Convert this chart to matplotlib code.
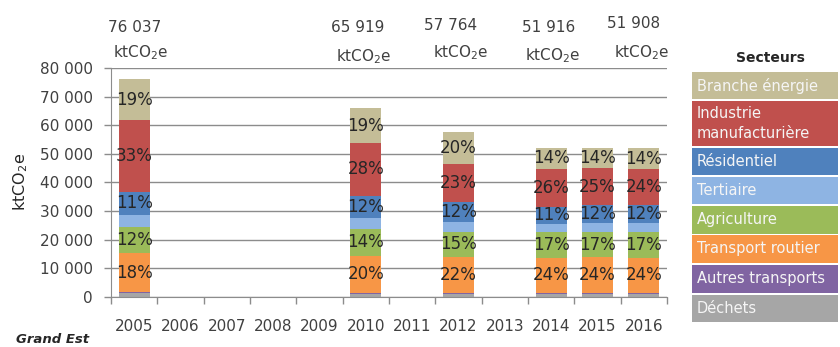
import matplotlib.pyplot as plt
import matplotlib.ticker as ticker
from matplotlib.patches import Rectangle

plt.rcParams['font.family'] = ['DejaVu Sans']
plt.rcParams['mathtext.fontset'] = 'custom'
plt.rcParams['mathtext.rm'] = 'DejaVu Sans'

# categories on the x axis and the years that have data
years = ['2005', '2006', '2007', '2008', '2009', '2010', '2011', '2012', '2013', '2014', '2015', '2016']
data_years = ['2005', '2010', '2012', '2014', '2015', '2016']
total_label_years = ['2005', '2010', '2012', '2014', '2016']

# emissions per sector, ktCO2e (stack order: bottom -> top)
dechets = [1300, 1000, 1100, 1000, 1000, 1000]
autres_transports = [300, 200, 200, 250, 250, 250]
transport_routier = [13700, 13200, 12700, 12450, 12500, 12450]
agriculture = [9100, 9200, 8700, 8800, 8850, 8800]
tertiaire = [4300, 3850, 3500, 3100, 3150, 3200]
residentiel = [8000, 7900, 6900, 5700, 6200, 6250]
industrie = [25000, 18300, 13300, 13500, 13000, 12600]
branche_energie = [14337, 12269, 11364, 7116, 7150, 7358]

sectors = ['Déchets', 'Autres transports', 'Transport routier', 'Agriculture',
           'Tertiaire', 'Résidentiel', 'Industrie manufacturière', 'Branche énergie']
series = [dechets, autres_transports, transport_routier, agriculture,
          tertiaire, residentiel, industrie, branche_energie]
colors = ['#A6A6A6', '#8064A2', '#F79646', '#9BBB59',
          '#8EB4E3', '#4F81BD', '#C0504D', '#C4BD97']
labelled = ['Transport routier', 'Agriculture', 'Résidentiel',
            'Industrie manufacturière', 'Branche énergie']

W, H = 840, 347


def fx(x):
    return x / W


def fy(y):
    return 1 - y / H


fig = plt.figure(figsize=(W / 100, H / 100), dpi=100)
ax = fig.add_axes([fx(111), fy(296.7), (667 - 111) / W, (296.7 - 68) / H])

pos = [years.index(y) for y in data_years]
totals = [sum(v) for v in zip(*series)]
bottom = [0] * len(data_years)
for name, vals, col in zip(sectors, series, colors):
    ax.bar(pos, vals, width=0.67, bottom=bottom, color=col, zorder=2, linewidth=0)
    if name in labelled:
        for p, b, v, t in zip(pos, bottom, vals, totals):
            pct = int(v / t * 100 + 0.5)
            ax.text(p, b + v / 2, f'{pct}%', ha='center', va='center',
                    fontsize=12, color='#262626', zorder=3)
    bottom = [b + v for b, v in zip(bottom, vals)]

# totals above the plot
num_dx = [0, -8, -8, -3, -10]
kt_dx = [7, -2, 2, 2, -2]
num_y = [27, 28, 25, 27, 23]
kt_y = [53, 57, 53, 56, 53]
for i, yr in enumerate(total_label_years):
    t = totals[data_years.index(yr)]
    xc = 111 + (years.index(yr) + 0.5) * (667 - 111) / len(years)
    fig.text(fx(xc + num_dx[i]), fy(num_y[i]), f'{t:,}'.replace(',', ' '),
             ha='center', va='center', fontsize=11, color='#404040')
    fig.text(fx(xc + kt_dx[i]), fy(kt_y[i]), r'ktCO$_\mathrm{2}$e',
             ha='center', va='center', fontsize=11, color='#404040')

ax.set_xlim(-0.5, len(years) - 0.5)
ax.set_ylim(0, 80000)
ax.set_xticks(range(len(years)))
ax.set_xticklabels(years)
ax.set_xticks([i - 0.5 for i in range(len(years) + 1)], minor=True)
ax.tick_params(axis='x', which='major', length=0, pad=16, labelsize=11, labelcolor='#404040')
ax.tick_params(axis='x', which='minor', length=5, width=1, color='#8C8C8C', direction='out')
ax.set_yticks(range(0, 80001, 10000))
ax.yaxis.set_major_formatter(ticker.FuncFormatter(lambda v, _: f'{int(v):,}'.replace(',', ' ')))
ax.tick_params(axis='y', length=5, width=1, color='#8C8C8C', pad=8, labelsize=11, labelcolor='#404040')
ax.grid(axis='y', color='#8C8C8C', linewidth=1, zorder=0)
ax.set_axisbelow(True)
for s in ['top', 'right']:
    ax.spines[s].set_visible(False)
for s in ['left', 'bottom']:
    ax.spines[s].set_color('#8C8C8C')

fig.text(fx(21), fy(182), r'ktCO$_\mathrm{2}$e', rotation=90, ha='center', va='center',
         fontsize=11.5, color='#262626')

# legend as coloured boxes
fig.text(fx(770), fy(58), 'Secteurs', ha='center', va='center', fontsize=10,
         fontweight='bold', color='#262626')
legend_rows = [('Branche énergie', '#C4BD97', 72, 99),
               ('Industrie\nmanufacturière', '#C0504D', 100.5, 146),
               ('Résidentiel', '#4F81BD', 147.5, 175),
               ('Tertiaire', '#8EB4E3', 176.5, 204),
               ('Agriculture', '#9BBB59', 205.5, 233.5),
               ('Transport routier', '#F79646', 235, 263),
               ('Autres transports', '#8064A2', 264.5, 293),
               ('Déchets', '#A6A6A6', 294.5, 322)]
for label, col, y0, y1 in legend_rows:
    fig.patches.append(Rectangle((fx(692), fy(y1)), (838 - 692) / W, (y1 - y0) / H,
                                 transform=fig.transFigure, facecolor=col, edgecolor='none'))
    fig.text(fx(697), fy((y0 + y1) / 2), label, ha='left', va='center', fontsize=10.5,
             color='#F5F5F5', linespacing=1.45)

fig.text(fx(16), fy(346), 'Grand Est', ha='left', va='bottom', fontsize=9.5,
         fontweight='bold', fontstyle='italic', color='#262626')

fig.savefig('out.png', dpi=100)
